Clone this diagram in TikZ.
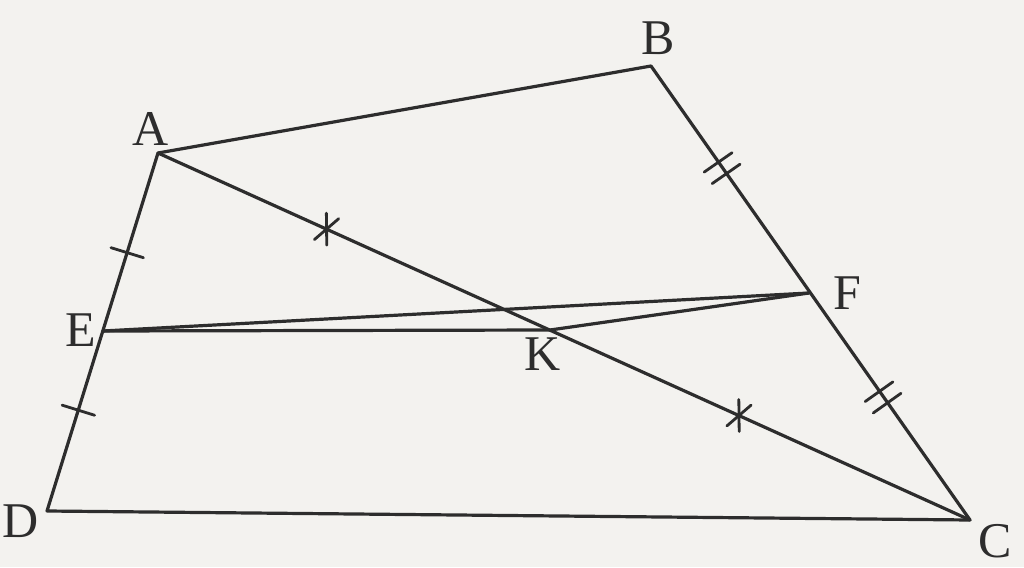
\documentclass[tikz,border=0pt]{standalone}
\usepackage{fontspec}
\setmainfont{Liberation Serif}
\usetikzlibrary{calc}
\definecolor{paper}{RGB}{243,242,239}
\definecolor{ink}{RGB}{45,45,45}
\tikzset{
  seg/.style={draw=ink, line width=3.2pt, line cap=round, line join=round},
  markline/.style={draw=ink, line width=2.8pt, line cap=round},
  lbl/.style={text=ink, font=\fontsize{50}{50}\selectfont, inner sep=0pt}
}
\begin{document}
\begin{tikzpicture}[x=1pt,y=-1pt]
\fill[paper] (0,0) rectangle (1024,567);
\useasboundingbox (0,0) rectangle (1024,567);
\coordinate (A) at (158,153);
\coordinate (B) at (651,66);
\coordinate (C) at (970,520);
\coordinate (D) at (47,511);
\coordinate (E) at (103,331);
\coordinate (F) at (809,293);
\coordinate (K) at (550,330);
% sides
\draw[seg] (A) -- (B) -- (C) -- (D) -- cycle;
\draw[seg] (A) -- (C);
\draw[seg] (E) -- (F);
\draw[seg] (E) -- (K) -- (F);
% single ticks on AE, ED
\foreach \X/\Y/\f in {A/E/0.56, E/D/0.44}{
  \coordinate (P) at ($(\X)!\f!(\Y)$);
  \draw[markline] ($(P)!17pt!90:(\Y)$) -- ($(P)!17pt!-90:(\Y)$);
}
% crosses on AK, KC
\foreach \X/\Y/\f in {A/K/0.43, K/C/0.45}{
  \coordinate (P) at ($(\X)!\f!(\Y)$);
  \draw[markline] ($(P)!16pt!65:(\Y)$) -- ($(P)!16pt!245:(\Y)$);
  \draw[markline] ($(P)!16pt!115:(\Y)$) -- ($(P)!16pt!-65:(\Y)$);
}
% double ticks on BF, FC
\foreach \X/\Y/\f in {B/F/0.45, F/C/0.46}{
  \coordinate (P) at ($(\X)!\f!(\Y)$);
  \coordinate (P1) at ($(P)!7pt!(\Y)$);
  \coordinate (P2) at ($(P)!-7pt!(\Y)$);
  \draw[markline] ($(P1)!17pt!90:(\Y)$) -- ($(P1)!17pt!-90:(\Y)$);
  \draw[markline] ($(P2)!17pt!90:(\Y)$) -- ($(P2)!17pt!-90:(\Y)$);
}
% labels
\node[lbl] (lA) at (151,129) {A};
\node[lbl] (lB) at (658,38) {B};
\node[lbl] (lC) at (995,541) {C};
\node[lbl] (lD) at (21,521) {D};
\node[lbl] (lE) at (81,330) {E};
\node[lbl] (lF) at (847,293) {F};
\node[lbl] (lK) at (543,354) {K};
\end{tikzpicture}
\end{document}
